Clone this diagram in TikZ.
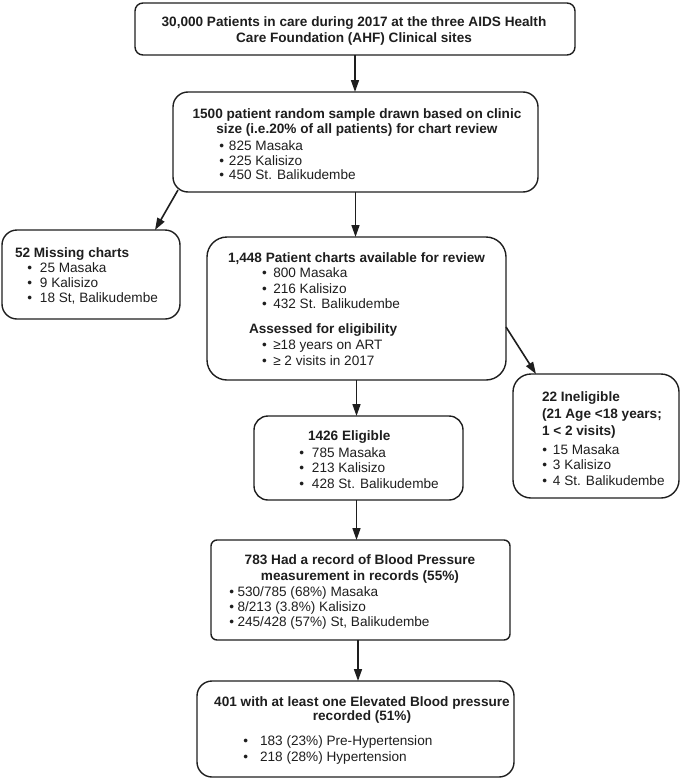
\documentclass[tikz,border=0pt]{standalone}
\usepackage{fontspec}
\setmainfont{Liberation Sans}
\usetikzlibrary{arrows.meta,calc}
\definecolor{ink}{RGB}{30,30,30}
\newcommand{\bul}[1]{\textbullet\hspace{#1}}
\begin{document}
\begin{tikzpicture}[x=1pt,y=-1pt,
  font=\fontsize{13.6}{15}\selectfont, text=ink,
  box/.style={draw=ink, line width=1.4pt, inner sep=0pt, outer sep=0pt},
  txt/.style={inner sep=0pt, outer sep=0pt, anchor=base west},
  btxt/.style={txt, font=\fontsize{13.6}{15}\selectfont\bfseries},
  ctxt/.style={inner sep=0pt, outer sep=0pt, anchor=base, font=\fontsize{13.6}{15}\selectfont\bfseries},
  arr/.style={draw=ink, line width=1.6pt, -{Triangle[length=12pt,width=8pt]}}]
\useasboundingbox (0,0) rectangle (685,779);

% boxes
\node[box, minimum width=440pt, minimum height=52pt, rounded corners=8pt] (b1) at (355,29) {};
\node[box, minimum width=365pt, minimum height=100pt, rounded corners=15pt] (b2) at (355.5,142) {};
\node[box, minimum width=178pt, minimum height=89pt, rounded corners=15pt] (b3) at (91,274.5) {};
\node[box, minimum width=299pt, minimum height=143pt, rounded corners=20pt] (b4) at (356.5,308.5) {};
\node[box, minimum width=166pt, minimum height=124pt, rounded corners=18pt] (b5) at (596,436) {};
\node[box, minimum width=209pt, minimum height=84pt, rounded corners=14pt] (b6) at (358.5,458) {};
\node[box, minimum width=299pt, minimum height=100pt, rounded corners=6pt] (b7) at (360.5,590) {};
\node[box, minimum width=317pt, minimum height=96pt, rounded corners=15pt] (b8) at (355.5,729) {};

% texts
\node[ctxt] (t1) at (354,27) {\begin{tabular}[t]{@{}c@{}}30,000 Patients in care during 2017 at the three AIDS Health\\[0.5pt] Care Foundation (AHF) Clinical sites\end{tabular}};

\node[ctxt] (t2a) at (357,118) {\begin{tabular}[t]{@{}c@{}}1500 patient random sample drawn based on clinic\\ size (i.e.20\% of all patients) for chart review\end{tabular}};
\node[txt] (t2b) at (219.3,150) {\begin{tabular}[t]{@{}l@{}}\bul{4.9pt}825 Masaka\\ \bul{4.9pt}225 Kalisizo\\[-0.5pt] \bul{4.9pt}450 St. Balikudembe\end{tabular}};

\node[btxt] (t3a) at (15,257) {52 Missing charts};
\node[txt] (t3b) at (27.3,272) {\begin{tabular}[t]{@{}l@{}}\bul{7.9pt}25 Masaka\\ \bul{7.9pt}9 Kalisizo\\[0.8pt] \bul{7.9pt}18 St, Balikudembe\end{tabular}};

\node[btxt] (t4a) at (228,262) {1,448 Patient charts available for review};
\node[txt] (t4b) at (262,277.5) {\begin{tabular}[t]{@{}l@{}}\bul{6.5pt}800 Masaka\\[0.5pt] \bul{6.5pt}216 Kalisizo\\[0.5pt] \bul{6.5pt}432 St. Balikudembe\end{tabular}};
\node[btxt] (t4c) at (249,333) {Assessed for eligibility};
\node[txt] (t4d) at (262,349.5) {\begin{tabular}[t]{@{}l@{}}\bul{6.5pt}≥18 years on ART\\[0.5pt] \bul{6.5pt}≥ 2 visits in 2017\end{tabular}};

\node[btxt] (t5a) at (542,401) {\begin{tabular}[t]{@{}l@{}}22 Ineligible\\[2pt] (21 Age <18 years;\\[2pt] 1 < 2 visits)\end{tabular}};
\node[txt] (t5b) at (542.3,454) {\begin{tabular}[t]{@{}l@{}}\bul{5.9pt}15 Masaka\\[0.8pt] \bul{5.9pt}3 Kalisizo\\[0.5pt] \bul{5.9pt}4 St. Balikudembe\end{tabular}};

\node[btxt] (t6a) at (308,440) {1426 Eligible};
\node[txt] (t6b) at (299.3,457) {\begin{tabular}[t]{@{}l@{}}\bul{7.9pt}785 Masaka\\ \bul{7.9pt}213 Kalisizo\\[1pt] \bul{7.9pt}428 St. Balikudembe\end{tabular}};

\node[ctxt] (t7a) at (360,564) {\begin{tabular}[t]{@{}c@{}}783 Had a record of Blood Pressure\\[1pt] measurement in records (55\%)\end{tabular}};
\node[txt] (t7b) at (229.3,596) {\begin{tabular}[t]{@{}l@{}}\bul{3.5pt}530/785 (68\%) Masaka\\ \bul{3.5pt}8/213 (3.8\%) Kalisizo\\ \bul{3.5pt}245/428 (57\%) St, Balikudembe\end{tabular}};

\node[ctxt] (t8a) at (362,706) {\begin{tabular}[t]{@{}c@{}}401 with at least one Elevated Blood pressure\\[-0.5pt] recorded (51\%)\end{tabular}};
\node[txt] (t8b) at (243.3,745) {\begin{tabular}[t]{@{}l@{}}\bul{12pt}183 (23\%) Pre-Hypertension\\[1.7pt] \bul{12pt}218 (28\%) Hypertension\end{tabular}};

% connectors
\draw[arr] (b1.south) -- (b1.south |- b2.north);
\draw[arr] ($(b2.south west)+(5,-2)$) -- ($(b3.north east)+(-25,0)$);
\draw[arr] (b2.south) -- (b2.south |- b4.north);
\draw[arr] ($(b4.north east)+(0,90)$) -- ($(b5.north west)+(23,0)$);
\draw[arr] (b4.south) -- (b4.south |- b6.north);
\draw[arr] ($(b6.south)+(-2,0)$) -- ($(b7.north)+(-4,0)$);
\draw[arr] ($(b7.south)+(-2.5,0)$) -- ($(b8.north)+(2.5,0)$);
\end{tikzpicture}
\end{document}
